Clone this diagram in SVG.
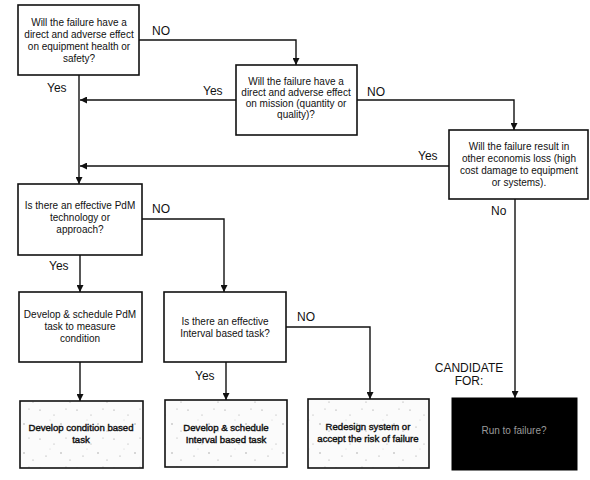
<svg xmlns="http://www.w3.org/2000/svg" width="590" height="480" viewBox="0 0 590 480">
<style>
.box{fill:#fff;stroke:#111;stroke-width:1.6}
.tex{fill:url(#speck);stroke:#111;stroke-width:1.6}
.t{font-family:"Liberation Sans",Arial,sans-serif;font-size:10px;fill:#111;text-anchor:middle}
.b{font-size:9.6px;stroke:#111;stroke-width:0.4}
.lbl{font-family:"Liberation Sans",Arial,sans-serif;font-size:12px;fill:#111}
.c{fill:none;stroke:#111;stroke-width:1.4;marker-end:url(#ah)}
.l{fill:none;stroke:#111;stroke-width:1.4}
</style>
<defs>
<marker id="ah" viewBox="0 0 10 10" refX="10" refY="5" markerWidth="7" markerHeight="7" markerUnits="userSpaceOnUse" orient="auto">
<path d="M0,0 L10,5 L0,10 z" fill="#111"/>
</marker>
<pattern id="speck" width="37" height="29" patternUnits="userSpaceOnUse">
<rect width="37" height="29" fill="#fbfbfb"/>
<circle cx="3" cy="4" r="0.6" fill="#888"/>
<circle cx="17" cy="9" r="0.5" fill="#999"/>
<circle cx="29" cy="3" r="0.6" fill="#aaa"/>
<circle cx="9" cy="21" r="0.5" fill="#888"/>
<circle cx="24" cy="18" r="0.7" fill="#999"/>
<circle cx="33" cy="25" r="0.5" fill="#888"/>
<circle cx="13" cy="14" r="0.4" fill="#aaa"/>
</pattern>
</defs>
<g id="connectors">
<polyline class="c" points="139,40 296,40 296,65"/>
<line class="l" x1="79" y1="75" x2="79" y2="100"/>
<line class="c" x1="79" y1="100" x2="79" y2="184"/>
<line class="c" x1="236" y1="100" x2="80" y2="100"/>
<polyline class="c" points="357,100 514,100 514,130"/>
<line class="c" x1="449" y1="166" x2="80" y2="166"/>
<line class="c" x1="515" y1="199" x2="515" y2="398"/>
<polyline class="c" points="142,219 224,219 224,292"/>
<line class="c" x1="80" y1="255" x2="80" y2="292"/>
<line class="c" x1="80" y1="362" x2="80" y2="401"/>
<line class="c" x1="226" y1="362" x2="226" y2="400"/>
<polyline class="c" points="286,327 370,327 370,399"/>
<text class="lbl" x="152" y="35">NO</text>
<text class="lbl" x="47" y="92">Yes</text>
<text class="lbl" x="203" y="95">Yes</text>
<text class="lbl" x="367" y="96">NO</text>
<text class="lbl" x="418" y="160">Yes</text>
<text class="lbl" x="491" y="215">No</text>
<text class="lbl" x="152" y="213">NO</text>
<text class="lbl" x="49" y="270">Yes</text>
<text class="lbl" x="297" y="321">NO</text>
<text class="lbl" x="195" y="380">Yes</text>
<text class="lbl" x="469" y="372" text-anchor="middle">CANDIDATE</text>
<text class="lbl" x="469" y="385" text-anchor="middle">FOR:</text>
</g>
<g id="n1">
<rect class="box" x="18" y="5" width="121" height="70"/>
<text class="t" x="79" y="26">Will the failure have a</text>
<text class="t" x="79" y="38">direct and adverse effect</text>
<text class="t" x="79" y="50">on equipment health or</text>
<text class="t" x="79" y="62">safety?</text>
</g>
<g id="n2">
<rect class="box" x="236" y="65" width="121" height="70"/>
<text class="t" x="296" y="85">Will the failure have a</text>
<text class="t" x="296" y="96">direct and adverse effect</text>
<text class="t" x="296" y="107">on mission (quantity or</text>
<text class="t" x="296" y="118">quality)?</text>
</g>
<g id="n3">
<rect class="box" x="449" y="130" width="139" height="69"/>
<text class="t" x="519" y="150">Will the failure result in</text>
<text class="t" x="519" y="162">other economis loss (high</text>
<text class="t" x="519" y="174">cost damage to equipment</text>
<text class="t" x="519" y="186">or systems).</text>
</g>
<g id="n4">
<rect class="box" x="18" y="184" width="124" height="71"/>
<text class="t" x="80" y="209">Is there an effective PdM</text>
<text class="t" x="80" y="221">technology or</text>
<text class="t" x="80" y="233">approach?</text>
</g>
<g id="n5">
<rect class="box" x="19" y="292" width="123" height="70"/>
<text class="t" x="80" y="318">Develop &amp; schedule PdM</text>
<text class="t" x="80" y="330">task to measure</text>
<text class="t" x="80" y="342">condition</text>
</g>
<g id="n6">
<rect class="box" x="164" y="292" width="122" height="70"/>
<text class="t" x="225" y="325">Is there an effective</text>
<text class="t" x="225" y="337">Interval based task?</text>
</g>
<g id="n7">
<rect class="tex" x="20" y="401" width="123" height="67"/>
<text class="t b" x="81" y="431">Develop condition based</text>
<text class="t b" x="81" y="443">task</text>
</g>
<g id="n8">
<rect class="tex" x="165" y="400" width="122" height="67"/>
<text class="t b" x="226" y="431">Develop &amp; schedule</text>
<text class="t b" x="226" y="443">Interval based task</text>
</g>
<g id="n9">
<rect class="tex" x="308" y="399" width="121" height="69"/>
<text class="t b" x="368" y="430">Redesign system or</text>
<text class="t b" x="368" y="442">accept the risk of failure</text>
</g>
<g id="n10">
<rect x="452" y="398" width="125" height="72" fill="#000" stroke="#000"/>
<text class="t" x="514" y="434" style="fill:#9a9a9a">Run to failure?</text>
</g>
</svg>
